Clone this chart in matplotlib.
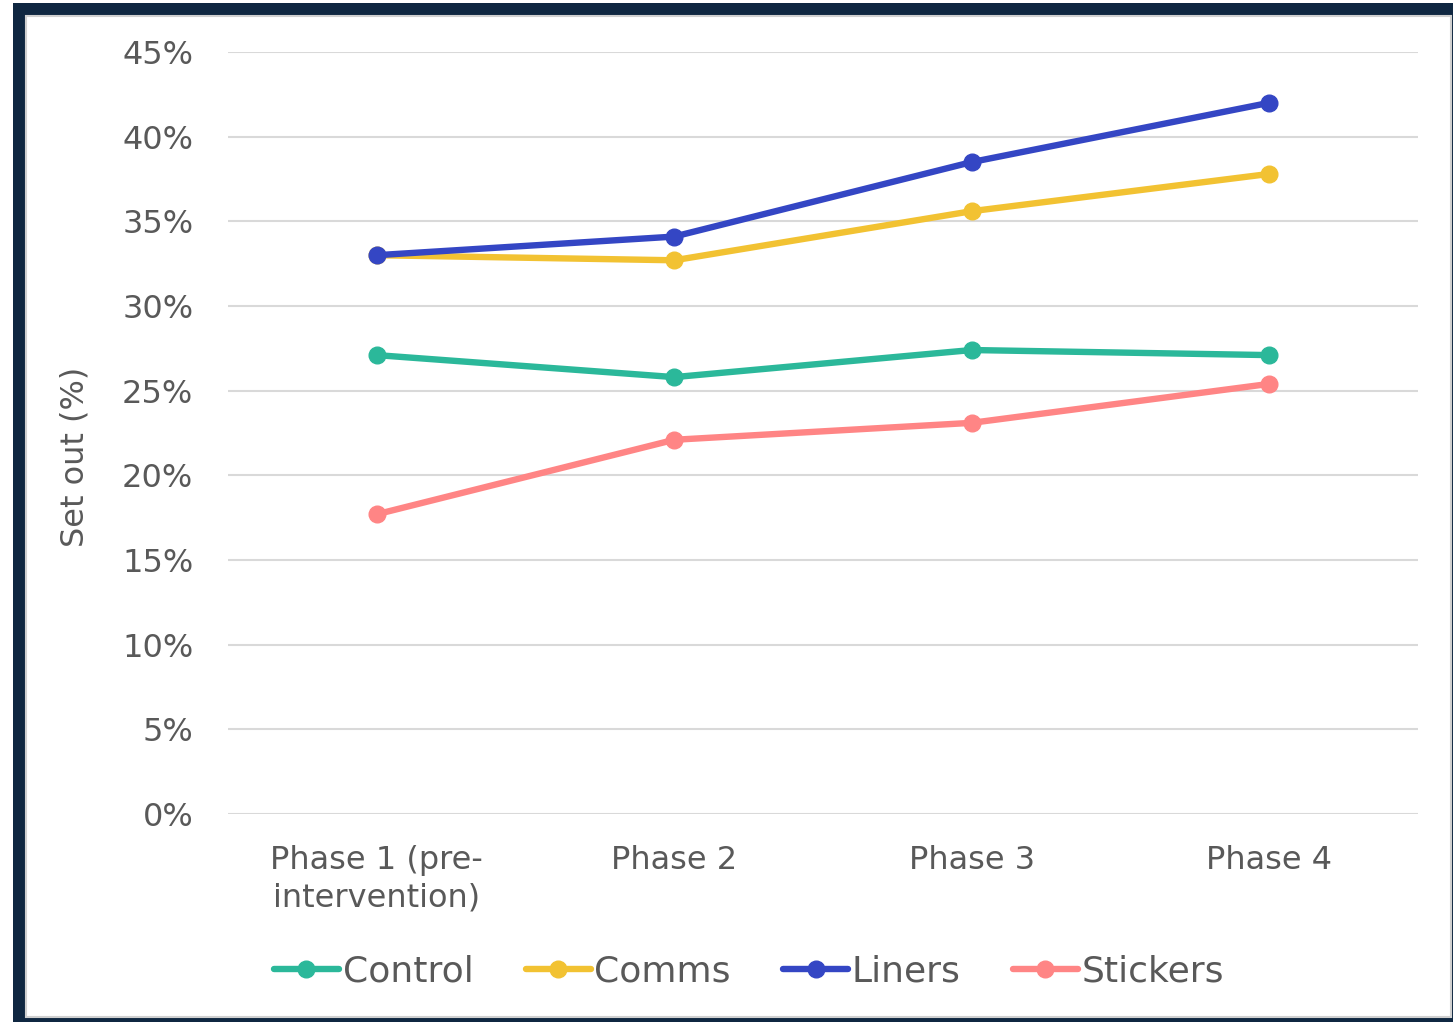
import matplotlib
matplotlib.use("Agg")
import matplotlib.pyplot as plt
from matplotlib.patches import Rectangle
from matplotlib.ticker import FuncFormatter, MultipleLocator

categories = ["Phase 1 (pre-\nintervention)", "Phase 2", "Phase 3", "Phase 4"]
control = [27.1, 25.8, 27.4, 27.1]
comms = [33.0, 32.7, 35.6, 37.8]
liners = [33.0, 34.1, 38.5, 42.0]
stickers = [17.7, 22.1, 23.1, 25.4]
series_names = ["Control", "Comms", "Liners", "Stickers"]
colors = ["#2BB89A", "#F2C232", "#3446C4", "#FF8585"]

W, H = 1453, 1022
fig = plt.figure(figsize=(W / 100, H / 100), dpi=100)
fig.patch.set_facecolor("white")

# frame
fig.patches.append(Rectangle((13 / W, 0), 1.0, (H - 3) / H, transform=fig.transFigure,
                             facecolor="#0F2741", edgecolor="none", zorder=-10))
fig.patches.append(Rectangle((26 / W, (H - 1017) / H), (1451 - 26) / W, (1017 - 16) / H,
                             transform=fig.transFigure, facecolor="white",
                             edgecolor="#D0D0D0", linewidth=1.5, zorder=-9))

ax = fig.add_axes([228 / W, 1 - 814 / H, (1418 - 228) / W, (814 - 52) / H])
ax.set_facecolor("none")

x = list(range(len(categories)))
for vals, name, c in zip([control, comms, liners, stickers], series_names, colors):
    ax.plot(x, vals, color=c, linewidth=4.6, marker="o", markersize=12,
            label=name, solid_capstyle="round", zorder=3)

ax.set_xlim(-0.5, 3.5)
ax.set_ylim(0, 45)
ax.yaxis.set_major_locator(MultipleLocator(5))
ax.yaxis.set_major_formatter(FuncFormatter(lambda v, p: f"{v:.0f}%"))
ax.set_xticks(x)
ax.set_xticklabels(categories)
ax.grid(axis="y", color="#D9D9D9", linewidth=1.5, zorder=0)
for s in ax.spines.values():
    s.set_visible(False)
ax.tick_params(axis="both", length=0, colors="#595959", labelsize=23)
ax.tick_params(axis="y", pad=25)
ax.tick_params(axis="x", pad=22)
for lbl in ax.get_xticklabels():
    lbl.set_linespacing(1.3)

fig.text(75 / W, 1 - 457 / H, "Set out (%)", rotation=90, ha="center", va="center",
         fontsize=23, color="#595959")

leg = fig.legend(loc="center", bbox_to_anchor=(749 / W, 1 - 972 / H), ncol=4,
                 frameon=False, fontsize=26, handlelength=1.8, handletextpad=0.1,
                 columnspacing=1.45, labelcolor="#595959")

fig.savefig("out.png", dpi=100, facecolor="white")
